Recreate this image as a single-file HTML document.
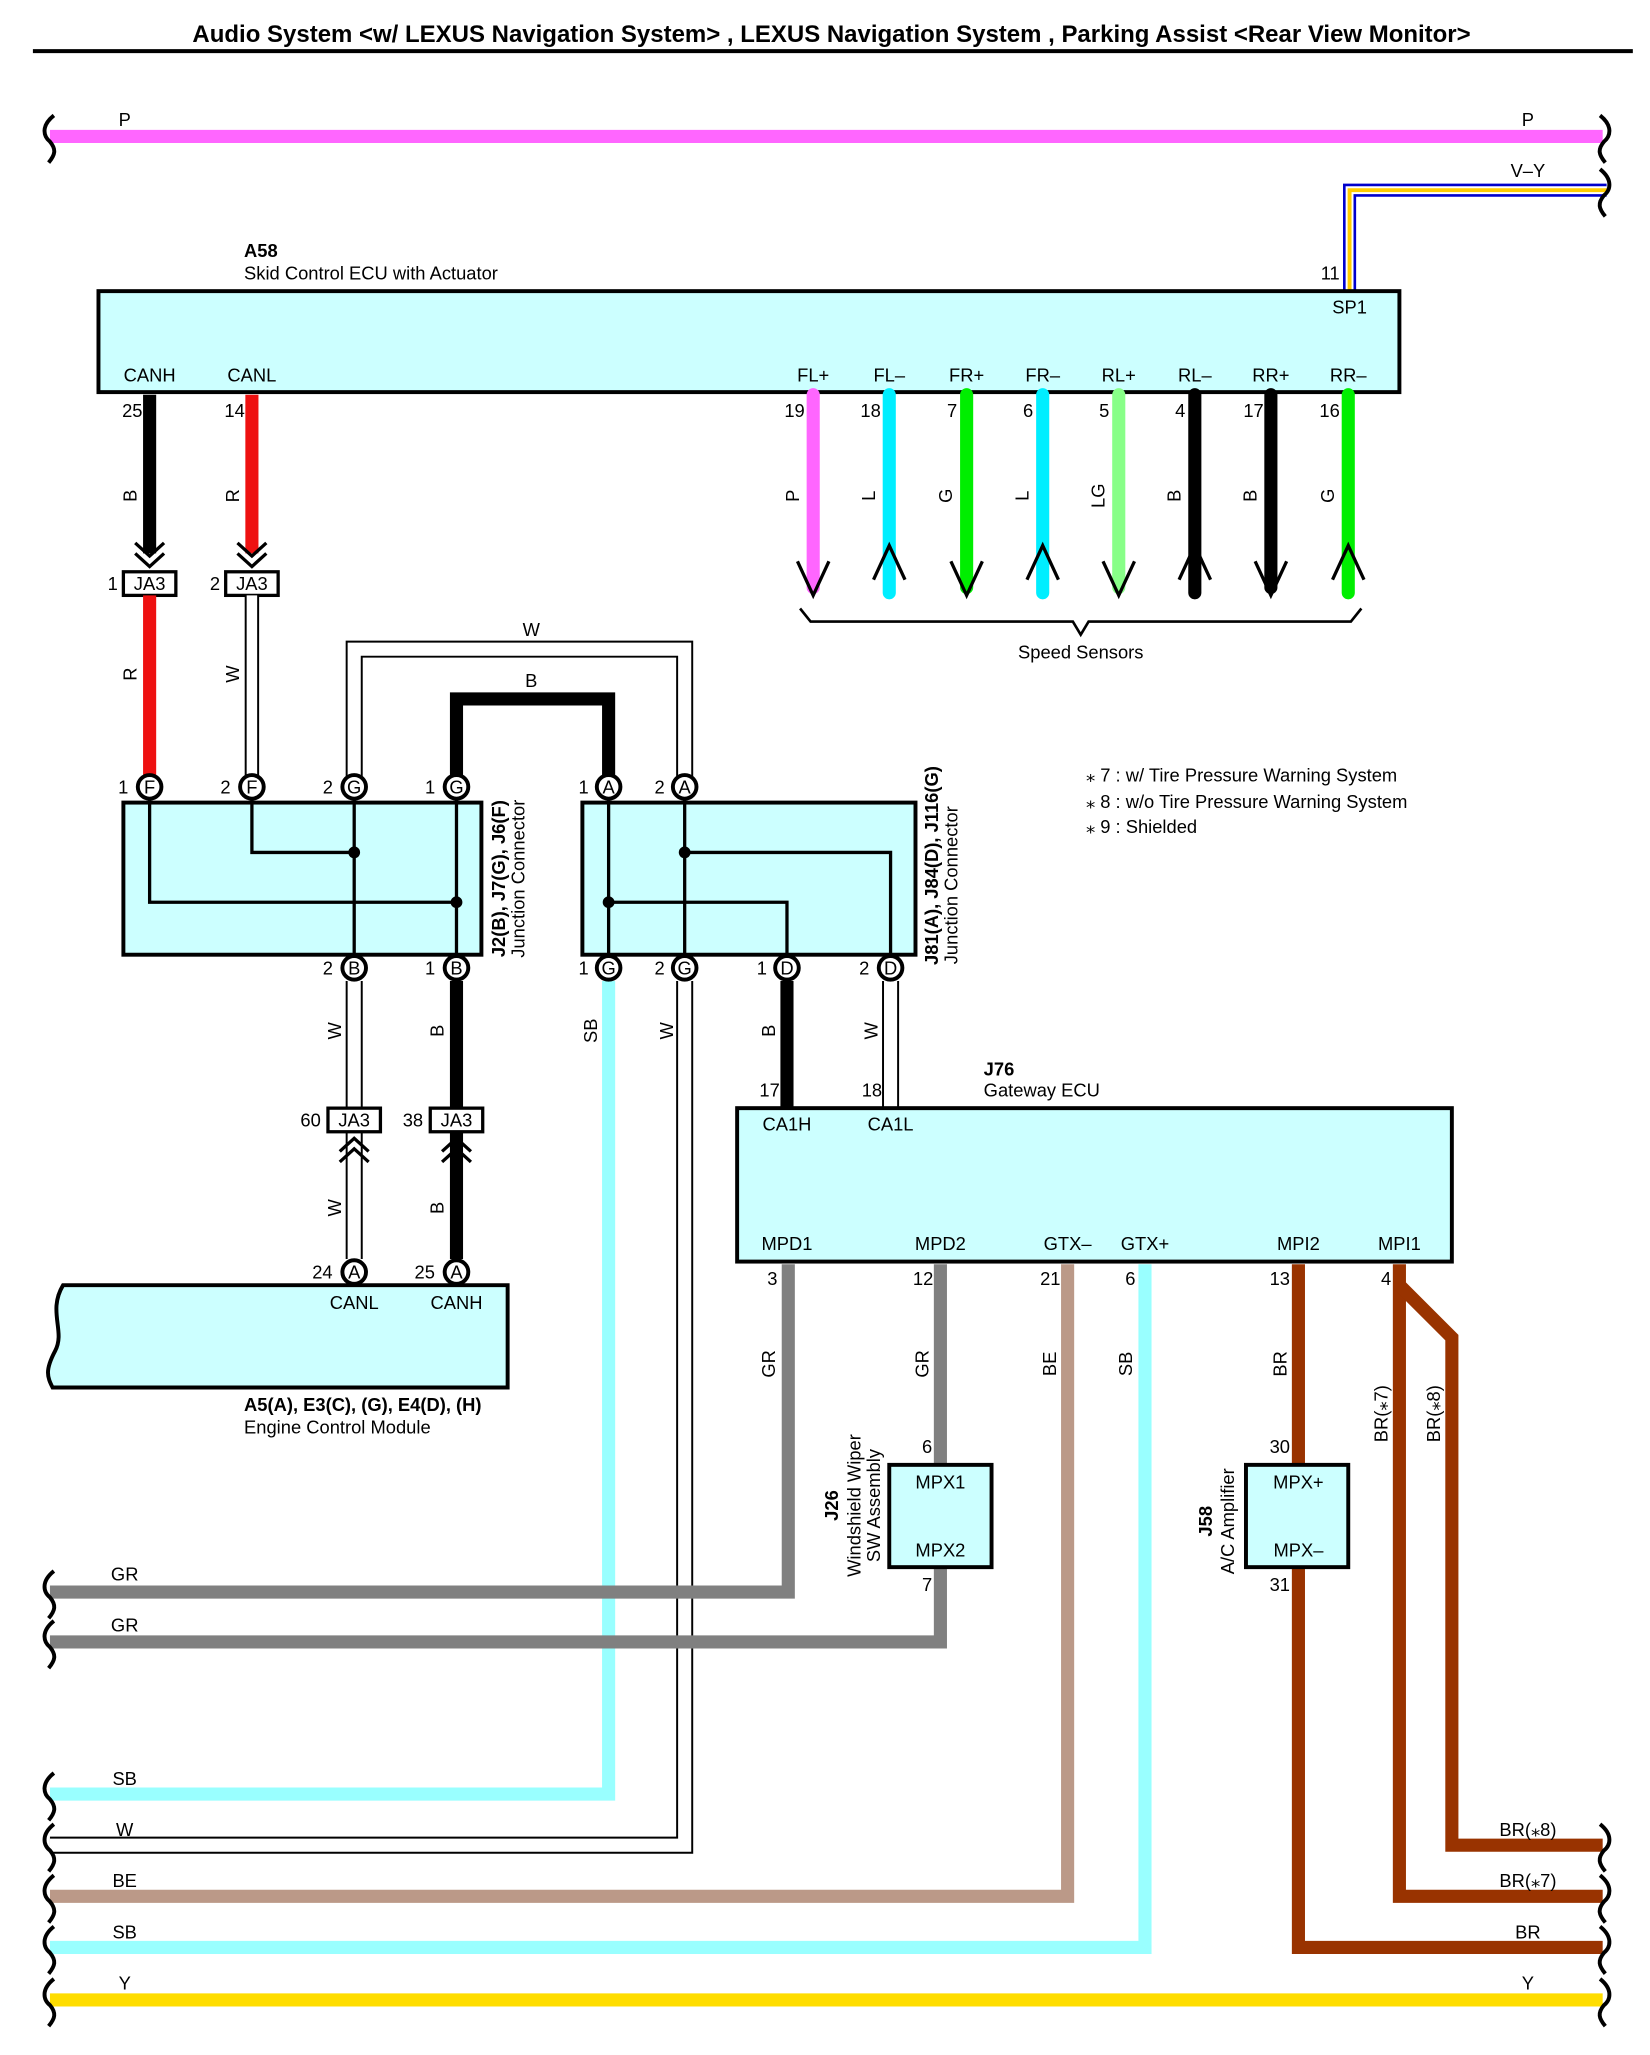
<!DOCTYPE html>
<html><head><meta charset="utf-8"><style>
html,body{margin:0;padding:0;background:#fff}
svg{display:block}
text{font-family:"Liberation Sans",Arial,sans-serif;font-size:14px;fill:#000}
.b{font-weight:bold}
.m{text-anchor:middle}
</style></head><body>
<svg width="1650" height="2055" viewBox="0 0 1258 1567" xmlns="http://www.w3.org/2000/svg">
<text x="634" y="32" class="m b" style="font-size:18.3px">Audio System &lt;w/ LEXUS Navigation System&gt; , LEXUS Navigation System , Parking Assist &lt;Rear View Monitor&gt;</text>
<line x1="25" y1="39" x2="1245" y2="39" stroke="#000" stroke-width="3"/>

<!-- P wire -->
<line x1="38" y1="104" x2="1222" y2="104" stroke="#ff66ff" stroke-width="10"/>
<text x="95" y="96" class="m">P</text><text x="1165" y="96" class="m">P</text>
<!-- V-Y -->
<polyline points="1225,145 1029,145 1029,222" fill="none" stroke="#0000cc" stroke-width="10"/>
<polyline points="1225,145 1029,145 1029,222" fill="none" stroke="#fff" stroke-width="6"/>
<polyline points="1225,145 1029,145 1029,222" fill="none" stroke="#ffcc00" stroke-width="3"/>
<text x="1165" y="135" class="m">V–Y</text>

<!-- A58 -->
<text x="186" y="196" class="b">A58</text>
<text x="186" y="213">Skid Control ECU with Actuator</text>
<text x="1007" y="213">11</text>
<rect x="75" y="222" width="992" height="77" fill="#ccffff" stroke="#000" stroke-width="3"/>
<text x="1029" y="239" class="m">SP1</text>
<g class="m">
<text x="114" y="291" class="m">CANH</text><text x="192" y="291" class="m">CANL</text>
<text x="620" y="291" class="m">FL+</text><text x="678" y="291" class="m">FL–</text>
<text x="737" y="291" class="m">FR+</text><text x="795" y="291" class="m">FR–</text>
<text x="853" y="291" class="m">RL+</text><text x="911" y="291" class="m">RL–</text>
<text x="969" y="291" class="m">RR+</text><text x="1028" y="291" class="m">RR–</text>
</g>

<!-- CAN wires top -->
<line x1="114" y1="301" x2="114" y2="422" stroke="#000" stroke-width="10"/>
<line x1="192" y1="301" x2="192" y2="422" stroke="#ee1111" stroke-width="10"/>
<text x="93" y="318">25</text><text x="171" y="318">14</text>
<text transform="rotate(-90 104 378)" x="104" y="378" class="m">B</text>
<text transform="rotate(-90 182 378)" x="182" y="378" class="m">R</text>
<g fill="none" stroke="#000" stroke-width="2.5">
<polyline points="103,414 114,424 125,414"/><polyline points="103,422 114,432 125,422"/>
<polyline points="181,414 192,424 203,414"/><polyline points="181,422 192,432 203,422"/>
</g>
<rect x="94" y="436" width="40" height="18" fill="#fff" stroke="#000" stroke-width="2.5"/>
<rect x="172" y="436" width="40" height="18" fill="#fff" stroke="#000" stroke-width="2.5"/>
<text x="114" y="450" class="m">JA3</text><text x="192" y="450" class="m">JA3</text>
<text x="82" y="450">1</text><text x="160" y="450">2</text>

<!-- speed sensor wires -->
<g stroke-width="10" stroke-linecap="round">
<line x1="620" y1="301" x2="620" y2="448" stroke="#ff66ff"/>
<line x1="678" y1="301" x2="678" y2="452" stroke="#00eeff"/>
<line x1="737" y1="301" x2="737" y2="448" stroke="#00ee00"/>
<line x1="795" y1="301" x2="795" y2="452" stroke="#00eeff"/>
<line x1="853" y1="301" x2="853" y2="448" stroke="#88ff88"/>
<line x1="911" y1="301" x2="911" y2="452" stroke="#000"/>
<line x1="969" y1="301" x2="969" y2="448" stroke="#000"/>
<line x1="1028" y1="301" x2="1028" y2="452" stroke="#00ee00"/>
</g>
<g fill="none" stroke="#000" stroke-width="2.5">
<polyline points="608,428 620,454 632,428"/><polyline points="725,428 737,454 749,428"/>
<polyline points="841,428 853,454 865,428"/><polyline points="957,428 969,454 981,428"/>
<polyline points="666,442 678,416 690,442"/><polyline points="783,442 795,416 807,442"/>
<polyline points="899,442 911,416 923,442"/><polyline points="1016,442 1028,416 1040,442"/>
</g>
<g>
<text x="598" y="318">19</text><text x="656" y="318">18</text><text x="722" y="318">7</text><text x="780" y="318">6</text>
<text x="838" y="318">5</text><text x="896" y="318">4</text><text x="948" y="318">17</text><text x="1006" y="318">16</text>
</g>
<g class="m">
<text transform="rotate(-90 609 378)" x="609" y="378" class="m">P</text>
<text transform="rotate(-90 667 378)" x="667" y="378" class="m">L</text>
<text transform="rotate(-90 726 378)" x="726" y="378" class="m">G</text>
<text transform="rotate(-90 784 378)" x="784" y="378" class="m">L</text>
<text transform="rotate(-90 842 378)" x="842" y="378" class="m">LG</text>
<text transform="rotate(-90 900 378)" x="900" y="378" class="m">B</text>
<text transform="rotate(-90 958 378)" x="958" y="378" class="m">B</text>
<text transform="rotate(-90 1017 378)" x="1017" y="378" class="m">G</text>
</g>
<path d="M610,464 L618,474 L818,474 L824,484 L830,474 L1030,474 L1038,464" fill="none" stroke="#000" stroke-width="2"/>
<text x="824" y="502" class="m">Speed Sensors</text>

<!-- JA3 -> J2 -->
<line x1="114" y1="454" x2="114" y2="592" stroke="#ee1111" stroke-width="10"/>
<text transform="rotate(-90 104 514)" x="104" y="514" class="m">R</text>
<g fill="none">
<path d="M192,454 V592" stroke="#000" stroke-width="11"/><path d="M192,454 V592" stroke="#fff" stroke-width="8"/>
<path d="M270,592 V495 H522 V592" stroke="#000" stroke-width="13"/><path d="M270,592 V495 H522 V592" stroke="#fff" stroke-width="10"/>
<path d="M348,592 V533 H464 V592" stroke="#000" stroke-width="10"/>
</g>
<text transform="rotate(-90 182 514)" x="182" y="514" class="m">W</text>
<text x="405" y="485" class="m">W</text><text x="405" y="524" class="m">B</text>

<!-- J2 box -->
<rect x="94" y="612" width="273" height="116" fill="#ccffff" stroke="#000" stroke-width="3"/>
<g fill="none" stroke="#000" stroke-width="2.5">
<polyline points="114,600 114,688 348,688"/><polyline points="192,600 192,650 270,650"/>
<line x1="270" y1="600" x2="270" y2="738"/><line x1="348" y1="600" x2="348" y2="738"/>
</g>
<circle cx="270" cy="650" r="4.5"/><circle cx="348" cy="688" r="4.5"/>
<!-- J81 box -->
<rect x="444" y="612" width="254" height="116" fill="#ccffff" stroke="#000" stroke-width="3"/>
<g fill="none" stroke="#000" stroke-width="2.5">
<line x1="464" y1="600" x2="464" y2="738"/><line x1="522" y1="600" x2="522" y2="738"/>
<polyline points="522,650 679,650 679,738"/><polyline points="464,688 600,688 600,738"/>
</g>
<circle cx="522" cy="650" r="4.5"/><circle cx="464" cy="688" r="4.5"/>

<!-- wires below junctions -->
<g fill="none">
<path d="M270,748 V960" stroke="#000" stroke-width="13"/><path d="M270,748 V960" stroke="#fff" stroke-width="10"/>
<path d="M348,748 V960" stroke="#000" stroke-width="10"/>
<path d="M464,748 V1368 H38" stroke="#99ffff" stroke-width="10"/>
<path d="M522,748 V1407 H38" stroke="#000" stroke-width="13"/><path d="M522,748 V1407 H38" stroke="#fff" stroke-width="10"/>
<path d="M600,748 V845" stroke="#000" stroke-width="10"/>
<path d="M679,748 V845" stroke="#000" stroke-width="13"/><path d="M679,748 V845" stroke="#fff" stroke-width="10"/>
</g>
<g fill="none" stroke="#000" stroke-width="2.5">
<polyline points="259,878 270,868 281,878"/><polyline points="259,886 270,876 281,886"/>
<polyline points="337,878 348,868 359,878"/><polyline points="337,886 348,876 359,886"/>
</g>
<rect x="250" y="845" width="40" height="18" fill="#fff" stroke="#000" stroke-width="2.5"/>
<rect x="328" y="845" width="40" height="18" fill="#fff" stroke="#000" stroke-width="2.5"/>
<text x="270" y="859" class="m">JA3</text><text x="348" y="859" class="m">JA3</text>
<text x="229" y="859">60</text><text x="307" y="859">38</text>
<text transform="rotate(-90 260 786)" x="260" y="786" class="m">W</text>
<text transform="rotate(-90 338 786)" x="338" y="786" class="m">B</text>
<text transform="rotate(-90 260 921)" x="260" y="921" class="m">W</text>
<text transform="rotate(-90 338 921)" x="338" y="921" class="m">B</text>
<text transform="rotate(-90 455 786)" x="455" y="786" class="m">SB</text>
<text transform="rotate(-90 513 786)" x="513" y="786" class="m">W</text>
<text transform="rotate(-90 591 786)" x="591" y="786" class="m">B</text>
<text transform="rotate(-90 669 786)" x="669" y="786" class="m">W</text>

<!-- pin circles -->
<g fill="#fff" stroke="#000" stroke-width="3">
<circle cx="114" cy="600" r="9"/><circle cx="192" cy="600" r="9"/><circle cx="270" cy="600" r="9"/><circle cx="348" cy="600" r="9"/>
<circle cx="464" cy="600" r="9"/><circle cx="522" cy="600" r="9"/>
<circle cx="270" cy="738" r="9"/><circle cx="348" cy="738" r="9"/>
<circle cx="464" cy="738" r="9"/><circle cx="522" cy="738" r="9"/><circle cx="600" cy="738" r="9"/><circle cx="679" cy="738" r="9"/>
<circle cx="270" cy="970" r="9"/><circle cx="348" cy="970" r="9"/>
</g>
<g>
<text x="114" y="605" class="m">F</text><text x="192" y="605" class="m">F</text><text x="270" y="605" class="m">G</text><text x="348" y="605" class="m">G</text>
<text x="464" y="605" class="m">A</text><text x="522" y="605" class="m">A</text>
<text x="270" y="743" class="m">B</text><text x="348" y="743" class="m">B</text>
<text x="464" y="743" class="m">G</text><text x="522" y="743" class="m">G</text><text x="600" y="743" class="m">D</text><text x="679" y="743" class="m">D</text>
<text x="270" y="975" class="m">A</text><text x="348" y="975" class="m">A</text>
<text x="90" y="605">1</text><text x="168" y="605">2</text><text x="246" y="605">2</text><text x="324" y="605">1</text>
<text x="441" y="605">1</text><text x="499" y="605">2</text>
<text x="246" y="743">2</text><text x="324" y="743">1</text>
<text x="441" y="743">1</text><text x="499" y="743">2</text><text x="577" y="743">1</text><text x="655" y="743">2</text>
<text x="238" y="975">24</text><text x="316" y="975">25</text>
</g>
<text transform="rotate(-90 385 670)" x="385" y="670" class="m b">J2(B), J7(G), J6(F)</text>
<text transform="rotate(-90 400 670)" x="400" y="670" class="m">Junction Connector</text>
<text transform="rotate(-90 715 660)" x="715" y="660" class="m b">J81(A), J84(D), J116(G)</text>
<text transform="rotate(-90 730 675)" x="730" y="675" class="m">Junction Connector</text>

<!-- notes -->
<text x="828" y="596">⁎ 7 : w/ Tire Pressure Warning System</text>
<text x="828" y="616">⁎ 8 : w/o Tire Pressure Warning System</text>
<text x="828" y="635">⁎ 9 : Shielded</text>

<!-- ECM -->
<path d="M387,980 H48 C36,1000 50,1015 42,1030 C34,1045 36,1050 40,1058 H387 Z" fill="#ccffff" stroke="#000" stroke-width="3"/>
<text x="270" y="998" class="m">CANL</text><text x="348" y="998" class="m">CANH</text>
<text x="186" y="1076" class="b">A5(A), E3(C), (G), E4(D), (H)</text>
<text x="186" y="1093">Engine Control Module</text>

<!-- J76 -->
<text x="750" y="820" class="b">J76</text><text x="750" y="836">Gateway ECU</text>
<text x="579" y="836">17</text><text x="657" y="836">18</text>
<rect x="562" y="845" width="545" height="117" fill="#ccffff" stroke="#000" stroke-width="3"/>
<text x="600" y="862" class="m">CA1H</text><text x="679" y="862" class="m">CA1L</text>
<text x="600" y="953" class="m">MPD1</text><text x="717" y="953" class="m">MPD2</text><text x="814" y="953" class="m">GTX–</text>
<text x="873" y="953" class="m">GTX+</text><text x="990" y="953" class="m">MPI2</text><text x="1067" y="953" class="m">MPI1</text>

<g fill="none" stroke-width="10">
<path d="M601,964 V1214 H38" stroke="#808080"/>
<path d="M717,964 V1117" stroke="#808080"/>
<path d="M717,1195 V1252 H38" stroke="#808080"/>
<path d="M814,964 V1446 H38" stroke="#bb9988"/>
<path d="M873,964 V1485 H38" stroke="#99ffff"/>
<path d="M990,964 V1117" stroke="#993300"/>
<path d="M990,1195 V1485 H1222" stroke="#993300"/>
<path d="M1067,964 V1446 H1222" stroke="#993300"/>
<path d="M1067,980 L1107,1020 V1407 H1222" stroke="#993300"/>
<path d="M38,1525 H1222" stroke="#ffdd00"/>
</g>
<g>
<text x="585" y="980">3</text><text x="696" y="980">12</text><text x="793" y="980">21</text><text x="858" y="980">6</text>
<text x="968" y="980">13</text><text x="1053" y="980">4</text>
<text x="703" y="1108">6</text><text x="703" y="1213">7</text><text x="968" y="1108">30</text><text x="968" y="1213">31</text>
</g>
<text transform="rotate(-90 591 1040)" x="591" y="1040" class="m">GR</text>
<text transform="rotate(-90 708 1040)" x="708" y="1040" class="m">GR</text>
<text transform="rotate(-90 805 1040)" x="805" y="1040" class="m">BE</text>
<text transform="rotate(-90 863 1040)" x="863" y="1040" class="m">SB</text>
<text transform="rotate(-90 981 1040)" x="981" y="1040" class="m">BR</text>
<text transform="rotate(-90 1058 1078)" x="1058" y="1078" class="m">BR(⁎7)</text>
<text transform="rotate(-90 1098 1078)" x="1098" y="1078" class="m">BR(⁎8)</text>

<rect x="678" y="1117" width="78" height="78" fill="#ccffff" stroke="#000" stroke-width="3"/>
<text x="717" y="1135" class="m">MPX1</text><text x="717" y="1187" class="m">MPX2</text>
<text transform="rotate(-90 639 1148)" x="639" y="1148" class="m b">J26</text>
<text transform="rotate(-90 656 1148)" x="656" y="1148" class="m">Windshield Wiper</text>
<text transform="rotate(-90 671 1148)" x="671" y="1148" class="m">SW Assembly</text>
<rect x="950" y="1117" width="78" height="78" fill="#ccffff" stroke="#000" stroke-width="3"/>
<text x="990" y="1135" class="m">MPX+</text><text x="990" y="1187" class="m">MPX–</text>
<text transform="rotate(-90 924 1160)" x="924" y="1160" class="m b">J58</text>
<text transform="rotate(-90 941 1160)" x="941" y="1160" class="m">A/C Amplifier</text>

<!-- bottom labels -->
<g>
<text x="95" y="1205" class="m">GR</text><text x="95" y="1244" class="m">GR</text>
<text x="95" y="1361" class="m">SB</text><text x="95" y="1400" class="m">W</text>
<text x="95" y="1439" class="m">BE</text><text x="95" y="1478" class="m">SB</text>
<text x="95" y="1517" class="m">Y</text><text x="1165" y="1517" class="m">Y</text>
<text x="1165" y="1400" class="m">BR(⁎8)</text><text x="1165" y="1439" class="m">BR(⁎7)</text>
<text x="1165" y="1478" class="m">BR</text>
</g>

<!-- break symbols -->
<g fill="none" stroke="#000" stroke-width="3">
<path d="M41,88 C31,96 33,104 38,108 C43,114 42,118 37,124"/>
<path d="M1220,88 C1230,96 1228,104 1223,108 C1218,114 1219,118 1224,124"/>
<path d="M1220,129 C1230,137 1228,145 1223,149 C1218,155 1219,159 1224,165"/>
<path d="M41,1198 C31,1206 33,1214 38,1218 C43,1224 42,1228 37,1234"/>
<path d="M41,1236 C31,1244 33,1252 38,1256 C43,1262 42,1266 37,1272"/>
<path d="M41,1352 C31,1360 33,1368 38,1372 C43,1378 42,1382 37,1388"/>
<path d="M41,1391 C31,1399 33,1407 38,1411 C43,1417 42,1421 37,1427"/>
<path d="M41,1430 C31,1438 33,1446 38,1450 C43,1456 42,1460 37,1466"/>
<path d="M41,1469 C31,1477 33,1485 38,1489 C43,1495 42,1499 37,1505"/>
<path d="M41,1509 C31,1517 33,1525 38,1529 C43,1535 42,1539 37,1545"/>
<path d="M1220,1391 C1230,1399 1228,1407 1223,1411 C1218,1417 1219,1421 1224,1427"/>
<path d="M1220,1430 C1230,1438 1228,1446 1223,1450 C1218,1456 1219,1460 1224,1466"/>
<path d="M1220,1469 C1230,1477 1228,1485 1223,1489 C1218,1495 1219,1499 1224,1505"/>
<path d="M1220,1509 C1230,1517 1228,1525 1223,1529 C1218,1535 1219,1539 1224,1545"/>
</g>
</svg>
</body></html>
